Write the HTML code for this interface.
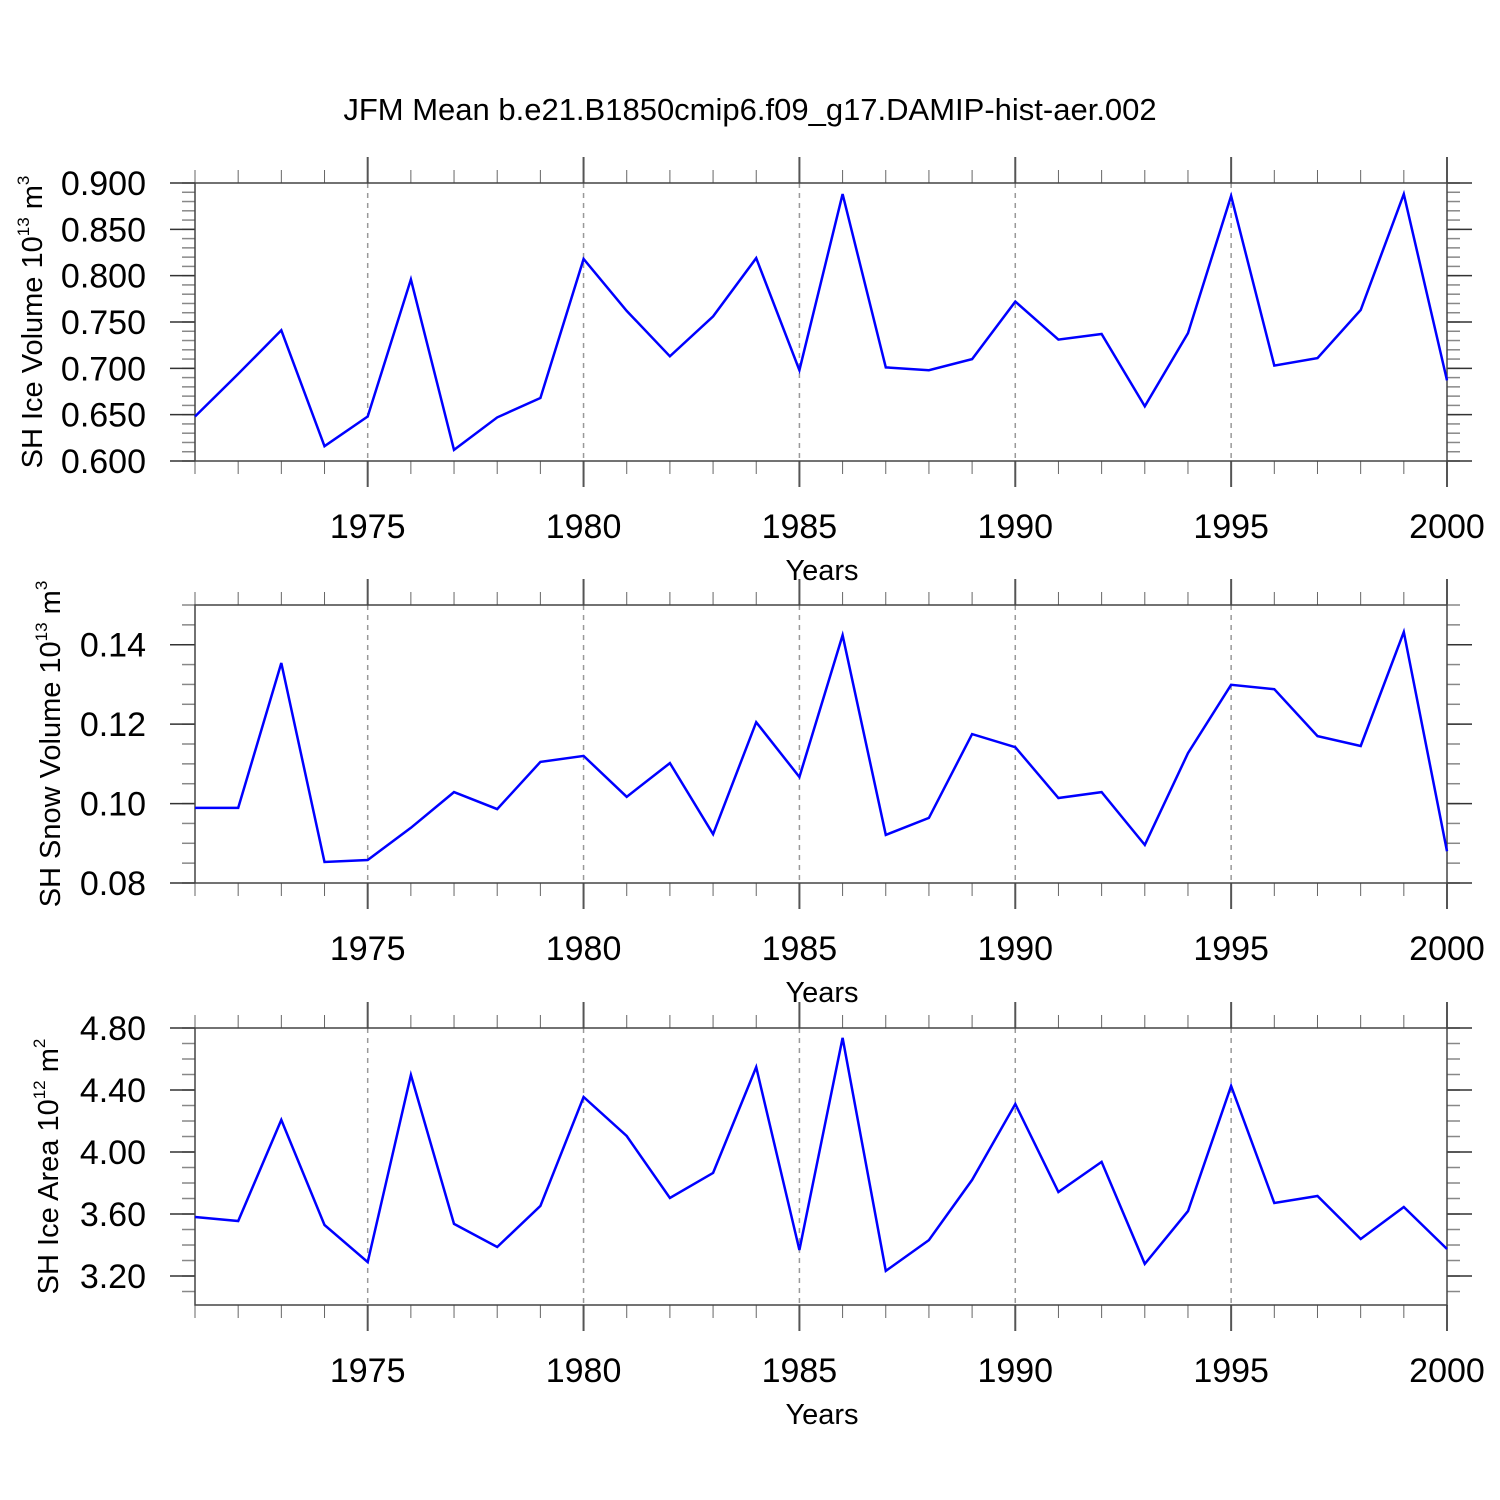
<!DOCTYPE html>
<html><head><meta charset="utf-8"><style>
body{margin:0;background:#fff}
svg{display:block;font-family:"Liberation Sans",Arial,sans-serif}
</style></head><body>
<svg id="chart" width="1500" height="1500" viewBox="0 0 1500 1500">
<text x="750" y="120" text-anchor="middle" font-size="31">JFM Mean b.e21.B1850cmip6.f09_g17.DAMIP-hist-aer.002</text>
</svg>
<script>
const years = [];
for (let y = 1971; y <= 2000; y++) years.push(y);
const iceVolume = [0.648,0.694,0.741,0.616,0.648,0.796,0.612,0.647,0.668,0.818,0.762,0.713,0.756,0.819,0.698,0.888,0.701,0.698,0.710,0.772,0.731,0.737,0.659,0.738,0.886,0.703,0.711,0.763,0.888,0.687];
const snowVolume = [0.0989,0.0989,0.1354,0.0853,0.0858,0.0939,0.1029,0.0986,0.1105,0.112,0.1017,0.1102,0.0923,0.1205,0.1067,0.1424,0.0921,0.0964,0.1175,0.1142,0.1014,0.1029,0.0896,0.1127,0.1299,0.1288,0.117,0.1145,0.1432,0.088];
const iceArea = [3.581,3.555,4.207,3.529,3.29,4.497,3.536,3.387,3.652,4.355,4.103,3.703,3.865,4.548,3.368,4.736,3.233,3.432,3.82,4.31,3.742,3.936,3.278,3.619,4.426,3.671,3.716,3.439,3.645,3.374];
const xTicks = [1975,1980,1985,1990,1995,2000];
const iceVolTicks = ["0.600","0.650","0.700","0.750","0.800","0.850","0.900"];
const snowTicks = ["0.08","0.10","0.12","0.14"];
const areaTicks = ["3.20","3.60","4.00","4.40","4.80"];

const svg = document.getElementById('chart');
const NS = 'http://www.w3.org/2000/svg';
function mk(tag, attrs, parent){const e=document.createElementNS(NS,tag);for(const k in attrs)e.setAttribute(k,attrs[k]);(parent||svg).appendChild(e);return e;}

const X0=195, X1=1447;
const xs = v => X0 + (v-1971)/(2000-1971)*(X1-X0);

function panel(cfg){
  const g = mk('g',{});
  
  
  const ys = v => cfg.bot - (v-cfg.ymin)/(cfg.ymax-cfg.ymin)*(cfg.bot-cfg.top);
  xTicks.forEach(t=>{ if(t<2000){ const l=mk('line',{x1:xs(t),x2:xs(t),y1:cfg.top,y2:cfg.bot,stroke:'#999','stroke-width':1.5,'stroke-dasharray':'5,5'},g);
      }});
  years.forEach(yr=>{
    mk('line',{x1:xs(yr),x2:xs(yr),y1:cfg.top-13,y2:cfg.top,stroke:'#666','stroke-width':1},g);
    mk('line',{x1:xs(yr),x2:xs(yr),y1:cfg.bot,y2:cfg.bot+13,stroke:'#666','stroke-width':1},g);
  });
  xTicks.forEach(t=>{
    mk('line',{x1:xs(t),x2:xs(t),y1:cfg.top-26,y2:cfg.top,stroke:'#555','stroke-width':2},g);
    mk('line',{x1:xs(t),x2:xs(t),y1:cfg.bot,y2:cfg.bot+26,stroke:'#555','stroke-width':2},g);
    const tx=mk('text',{x:xs(t),y:cfg.bot+77,'text-anchor':'middle','font-size':34},g);
    tx.textContent=t;
     
  });
  for(let v=cfg.minorStart; v<=cfg.ymax+1e-9; v+=cfg.minorStep){
    const y=ys(v); if(y<cfg.top-0.5||y>cfg.bot+0.5) continue;
    mk('line',{x1:X0-13,x2:X0,y1:y,y2:y,stroke:'#888','stroke-width':1.5},g);
    mk('line',{x1:X1,x2:X1+13,y1:y,y2:y,stroke:'#888','stroke-width':1.5},g);
  }
  cfg.ticks.forEach(t=>{
    const y=ys(parseFloat(t));
    mk('line',{x1:X0-25,x2:X0,y1:y,y2:y,stroke:'#333','stroke-width':1.5},g);
    mk('line',{x1:X1,x2:X1+25,y1:y,y2:y,stroke:'#333','stroke-width':1.5},g);
    const tx=mk('text',{x:146,y:y+12,'text-anchor':'end','font-size':34},g);
    tx.textContent=t;
     
  });
  const fr=mk('rect',{x:X0,y:cfg.top,width:X1-X0,height:cfg.bot-cfg.top,fill:'none',stroke:'#444','stroke-width':1.5},g);
   
  const pts = cfg.data.map((v,i)=>xs(years[i]).toFixed(1)+','+ys(v).toFixed(1)).join(' ');
  const pl=mk('polyline',{points:pts,fill:'none',stroke:'#0000ff','stroke-width':2.5,'stroke-linejoin':'miter'},g);
   
  const xt=mk('text',{x:822,y:cfg.bot+119,'text-anchor':'middle','font-size':29},g);
  xt.textContent='Years';
   
  const cy=(cfg.top+cfg.bot)/2;
  const yt=mk('text',{x:cfg.ylx,y:cy,'text-anchor':'middle','font-size':29,transform:`rotate(-90 ${cfg.ylx} ${cy})`},g);
   
  const a=mk('tspan',{},yt); a.textContent=cfg.ylabel+' 10';
  const b=mk('tspan',{'font-size':17,dy:-13},yt); b.textContent=cfg.exp;
  const c=mk('tspan',{dy:13},yt); c.textContent=' m';
  const d=mk('tspan',{'font-size':17,dy:-13},yt); d.textContent=cfg.unitExp;
}
panel({name:'ice-volume-panel',top:183,bot:461,ymin:0.6,ymax:0.9,ticks:iceVolTicks,minorStart:0.6,minorStep:0.01,data:iceVolume,ylabel:'SH Ice Volume',exp:'13',unitExp:'3',ylx:42});
panel({name:'snow-volume-panel',top:605,bot:883,ymin:0.08,ymax:0.15,ticks:snowTicks,minorStart:0.08,minorStep:0.005,data:snowVolume,ylabel:'SH Snow Volume',exp:'13',unitExp:'3',ylx:60});
panel({name:'ice-area-panel',top:1028,bot:1305,ymin:3.013,ymax:4.8,ticks:areaTicks,minorStart:3.1,minorStep:0.1,data:iceArea,ylabel:'SH Ice Area',exp:'12',unitExp:'2',ylx:58});
</script>
</body></html>
